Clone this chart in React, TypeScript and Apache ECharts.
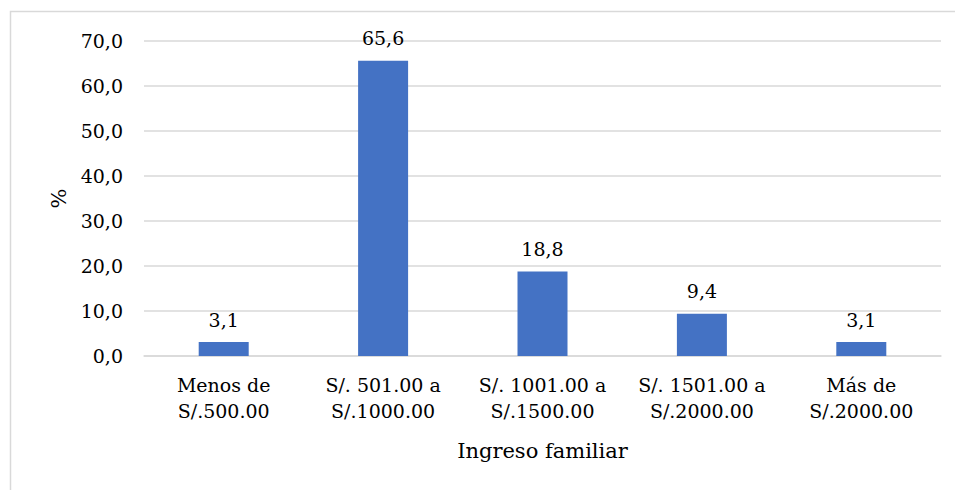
import React, { useEffect, useRef } from "react";
import * as echarts from "echarts";

const categories = [
  "Menos de\nS/.500.00",
  "S/. 501.00 a\nS/.1000.00",
  "S/. 1001.00 a\nS/.1500.00",
  "S/. 1501.00 a\nS/.2000.00",
  "Más de\nS/.2000.00",
];
const values = [3.1, 65.6, 18.8, 9.4, 3.1];
const xAxisTitle = "Ingreso familiar";
const yAxisTitle = "%";

const FONT = "DejaVu Serif";
const fmt = (v: number) => v.toFixed(1).replace(".", ",");

export default function App() {
  const ref = useRef<HTMLDivElement>(null);
  useEffect(() => {
    if (!ref.current) return;
    const chart = echarts.init(ref.current, undefined, { renderer: "svg" });
    chart.setOption({
      animation: false,
      backgroundColor: "#ffffff",
      textStyle: { fontFamily: FONT },
      graphic: [
        {
          type: "rect",
          shape: { x: 10.5, y: 11.5, width: 1200, height: 800 },
          style: { fill: "none", stroke: "#d9d9d9", lineWidth: 1.5 },
          silent: true,
        },
      ],
      grid: { left: 144, right: 14, top: 41, bottom: 134, containLabel: false },
      xAxis: {
        type: "category",
        data: categories,
        name: xAxisTitle,
        nameLocation: "middle",
        nameGap: 84,
        nameTextStyle: { fontFamily: FONT, fontSize: 21, color: "#000000" },
        axisLine: { show: true, lineStyle: { color: "#d9d9d9", width: 1.5 } },
        axisTick: { show: false },
        axisLabel: {
          fontFamily: FONT,
          fontSize: 19,
          color: "#000000",
          lineHeight: 26,
          margin: 16,
          interval: 0,
        },
      },
      yAxis: {
        type: "value",
        min: 0,
        max: 70,
        interval: 10,
        name: yAxisTitle,
        nameLocation: "middle",
        nameGap: 74,
        nameRotate: 90,
        nameTextStyle: { fontFamily: FONT, fontSize: 21, color: "#000000" },
        axisLine: { show: false },
        axisTick: { show: false },
        splitLine: { lineStyle: { color: "#d9d9d9", width: 1.5 } },
        axisLabel: {
          fontFamily: FONT,
          fontSize: 19,
          color: "#000000",
          margin: 21,
          formatter: (v: number) => fmt(v),
        },
      },
      series: [
        {
          type: "bar",
          data: values,
          barWidth: 50,
          itemStyle: { color: "#4472C4" },
          label: {
            show: true,
            position: "top",
            distance: 13,
            fontFamily: FONT,
            fontSize: 19,
            color: "#000000",
            formatter: (p: any) => fmt(p.value),
          },
        },
      ],
    });
    return () => chart.dispose();
  }, []);
  return (
    <div
      ref={ref}
      style={{ position: "absolute", left: 0, top: 0, width: 955, height: 490 }}
    />
  );
}
